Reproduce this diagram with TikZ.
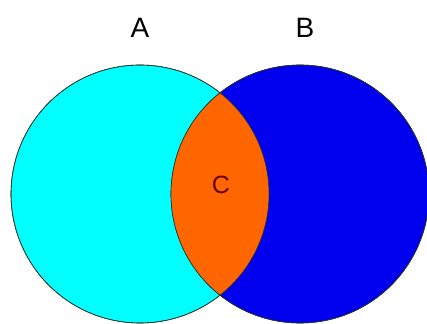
\documentclass[tikz,border=0pt]{standalone}
\usepackage{fontspec}
\setmainfont{Liberation Sans}
\definecolor{setA}{RGB}{0,255,255}
\definecolor{setB}{RGB}{0,0,238}
\definecolor{setC}{RGB}{255,102,0}
\definecolor{rim}{RGB}{40,50,40}

\begin{document}
\begin{tikzpicture}[x=1pt,y=-1pt,every node/.style={font=\fontsize{28}{28}\selectfont},
  set/.style={circle,draw=rim,line width=.6pt,minimum size=258pt,inner sep=0pt}]
\useasboundingbox (0,0) rectangle (427,323);
\clip (0,0) rectangle (427,323);
\node[set,fill=setA] (A) at (140,194) {};
\node[set,fill=setB] (B) at (300,194) {};
\begin{scope}
\clip (A.center) circle (129);
\fill[setC] (B.center) circle (129);
\end{scope}
\draw[rim,line width=.6pt] (A.center) circle (129);
\draw[rim,line width=.6pt] (B.center) circle (129);
\node (lblA) at (140,28) {A};
\node (lblB) at (305,28) {B};
\node[text=black!60!red,font=\fontsize{25}{25}\selectfont] (lblC) at (221,185) {C};
\end{tikzpicture}
\end{document}
